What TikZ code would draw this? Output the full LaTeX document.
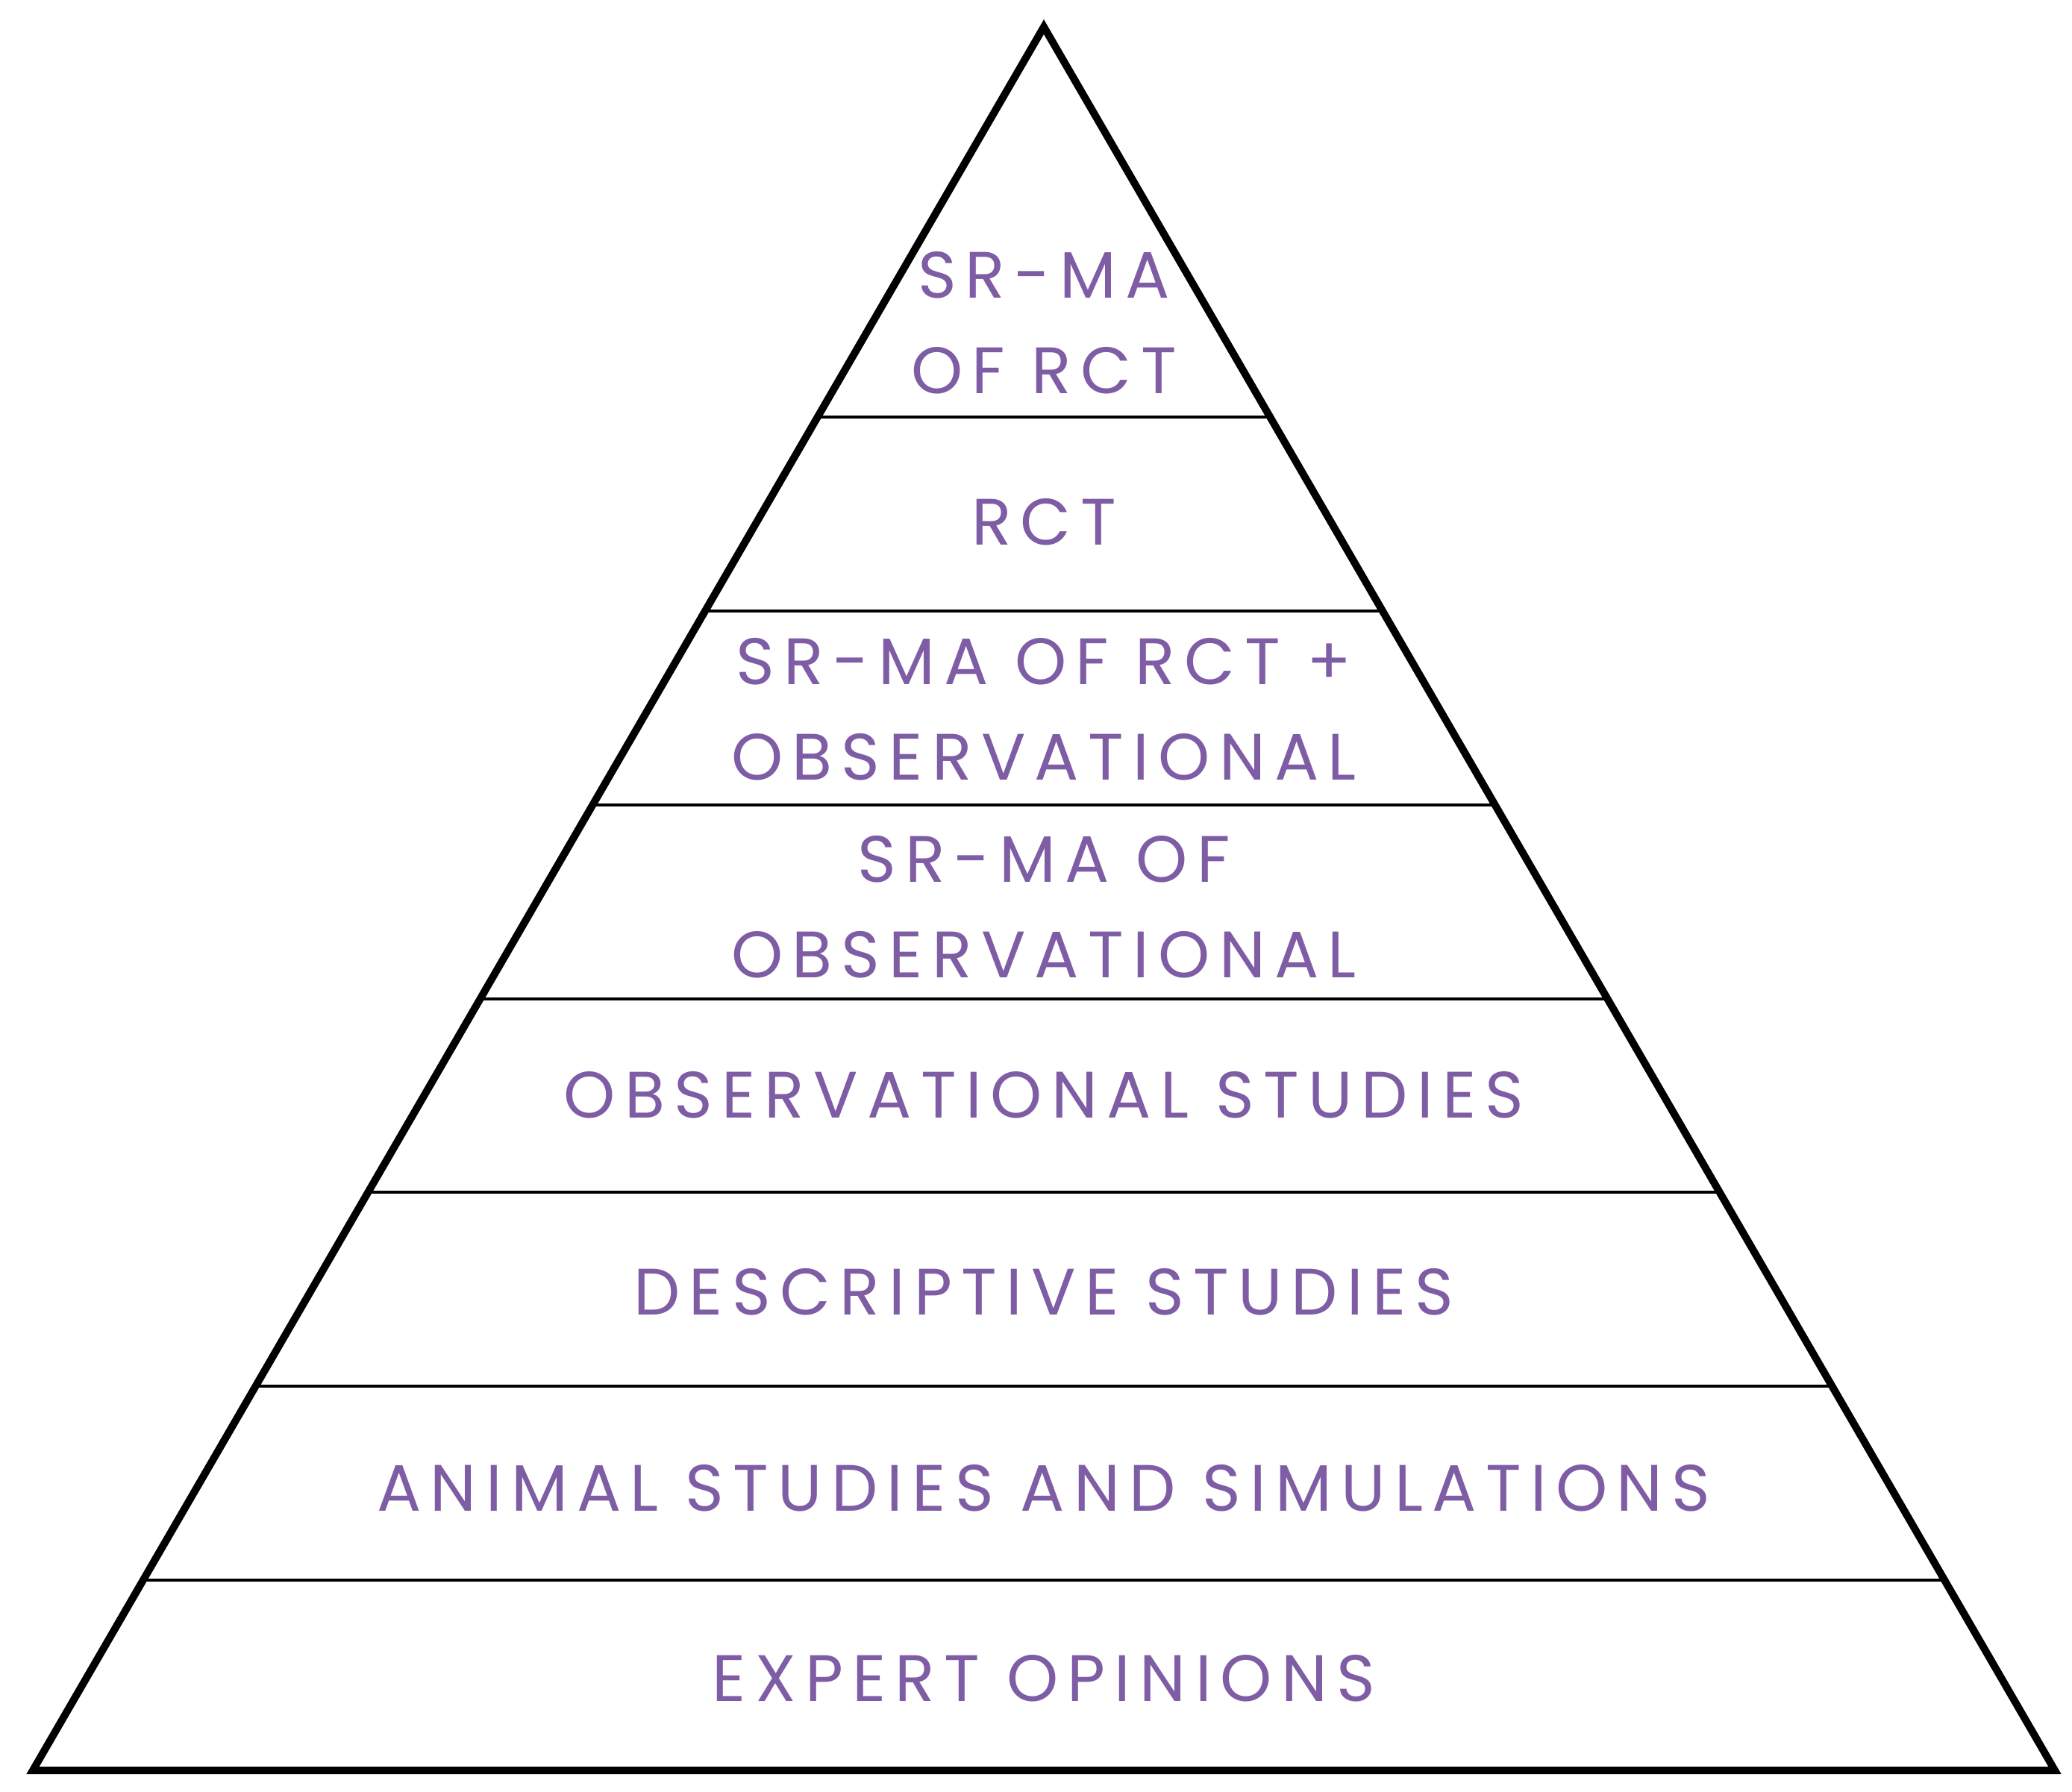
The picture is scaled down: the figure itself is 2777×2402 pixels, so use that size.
\documentclass[tikz,border=0pt]{standalone}
\usepackage{fontspec}
\usetikzlibrary{calc}
\setmainfont[LetterSpace=14]{Poppins}
\definecolor{lbl}{HTML}{7E5DA5}
\begin{document}
\begin{tikzpicture}[x=1pt,y=-1pt,
  lvl/.style={text=lbl,font=\fontsize{88}{128}\selectfont,align=center,inner sep=0pt},
  sep/.style={line width=3.5pt,black}]
\useasboundingbox[fill=white] (0,0) rectangle (2777,2402);
\coordinate (A) at (1399,36);
\coordinate (L) at (44,2373);
\coordinate (R) at (2754,2373);
\foreach \y in {559,819,1079,1339,1598,1858,2118}{
  \pgfmathsetmacro{\t}{(\y-36)/(2373-36)}
  \draw[sep] ($(A)!\t!(L)$) -- ($(A)!\t!(R)$);
}
\draw[line width=10pt,line join=miter] (A) -- (L) -- (R) -- cycle;
\node[lvl] (n1) at (1399,433) {SR-MA\\OF RCT};
\node[lvl] (n2) at (1399,700) {RCT};
\node[lvl] (n3) at (1399,951) {SR-MA OF RCT +\\OBSERVATIONAL};
\node[lvl] (n4) at (1399,1216) {SR-MA OF\\OBSERVATIONAL};
\node[lvl] (n5) at (1399,1468) {OBSERVATIONAL STUDIES};
\node[lvl] (n6) at (1399,1732) {DESCRIPTIVE STUDIES};
\node[lvl] (n7) at (1399,1995) {ANIMAL STUDIES AND SIMULATIONS};
\node[lvl] (n8) at (1399,2250) {EXPERT OPINIONS};
\end{tikzpicture}
\end{document}
